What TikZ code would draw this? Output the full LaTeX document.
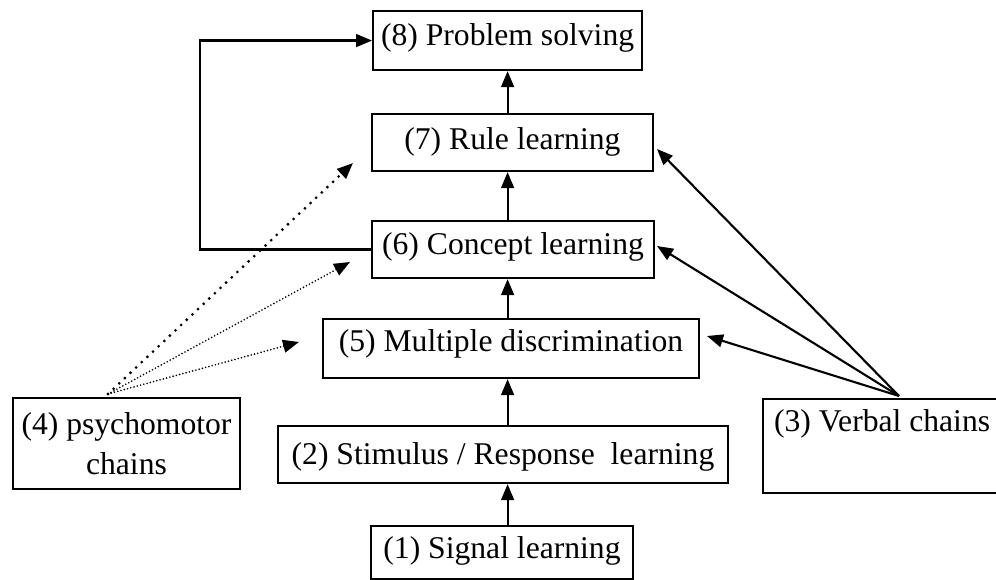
\documentclass[tikz,border=0pt]{standalone}
\usepackage{fontspec}
\setmainfont{Liberation Serif}
\usetikzlibrary{arrows.meta}

\begin{document}
\begin{tikzpicture}[>={Triangle[length=4mm,width=3.2mm]},
	box/.style={draw, line width=1.5pt, inner sep=0pt, anchor=north,
		font=\fontsize{22.5}{28.5}\selectfont},
	link/.style={->, line width=1.5pt},
	bigdots/.style={->, line width=2.2pt, line cap=round, dash pattern=on 0pt off 5.5pt},
	finedots/.style={->, line width=1.3pt, line cap=round, dash pattern=on 0pt off 2.4pt}]

% Frame
\useasboundingbox (0,0) rectangle (24.9,-14.5);

% Levels of learning
\node[box, minimum width=6.725cm, text height=0.85cm, text depth=0.625cm]
	(Level-8) at (12.69,-0.25) {(8) Problem solving};
\node[box, minimum width=7.025cm, text height=0.875cm, text depth=0.55cm]
	(Level-7) at (12.81,-2.825) {(7) Rule learning};
\node[box, minimum width=7.05cm, text height=0.825cm, text depth=0.6cm]
	(Level-6) at (12.825,-5.5) {(6) Concept learning};
\node[box, minimum width=9.4cm, text height=0.8cm, text depth=0.675cm]
	(Level-5) at (12.775,-7.95) {(5) Multiple discrimination};
\node[box, minimum width=11.25cm, text height=0.95cm, text depth=0.475cm]
	(Level-2) at (12.575,-10.625) {(2) Stimulus / Response\ \ learning};
\node[box, minimum width=6.55cm, text height=0.8cm, text depth=0.525cm]
	(Level-1) at (12.55,-13.125) {(1) Signal learning};

% Side chains
\node[box, align=center, minimum width=5.675cm, minimum height=2.275cm]
	(Level-4) at (3.1625,-9.925) {(4) psychomotor\\chains};
\node[box, anchor=north west, align=flush left, text width=5.525cm, inner xsep=0.275cm,
	text height=0.8cm, text depth=1.55cm]
	(Level-3) at (19.05,-9.95) {(3) Verbal chains};

% Up the hierarchy
\foreach \i/\j in {1/2,2/5,5/6,6/7,7/8}
{
	\draw[link] (Level-\i.north -| Level-8) -- (Level-\j.south -| Level-8);
}

% Concept learning back to problem solving
\coordinate (Turn) at (5,0);
\draw[link] (Level-6.west) -- (Level-6.west -| Turn) |- (Level-8.west);

% Psychomotor chains
\coordinate (Motor) at (2.7,-9.85);
\coordinate (M-5) at (7.475,-8.55);
\coordinate (M-6) at (8.75,-6.55);
\coordinate (M-7) at (8.825,-4.075);
\draw[bigdots] (Motor) -- (M-7);
\foreach \j in {5,6}
{
	\draw[finedots] (Motor) -- (M-\j);
}

% Verbal chains
\coordinate (Verbal) at (22.475,-9.9);
\coordinate (V-5) at (17.675,-8.4);
\coordinate (V-6) at (16.425,-6.15);
\coordinate (V-7) at (16.425,-3.725);
\foreach \j in {5,6,7}
{
	\draw[link] (Verbal) -- (V-\j);
}
\end{tikzpicture}
\end{document}
